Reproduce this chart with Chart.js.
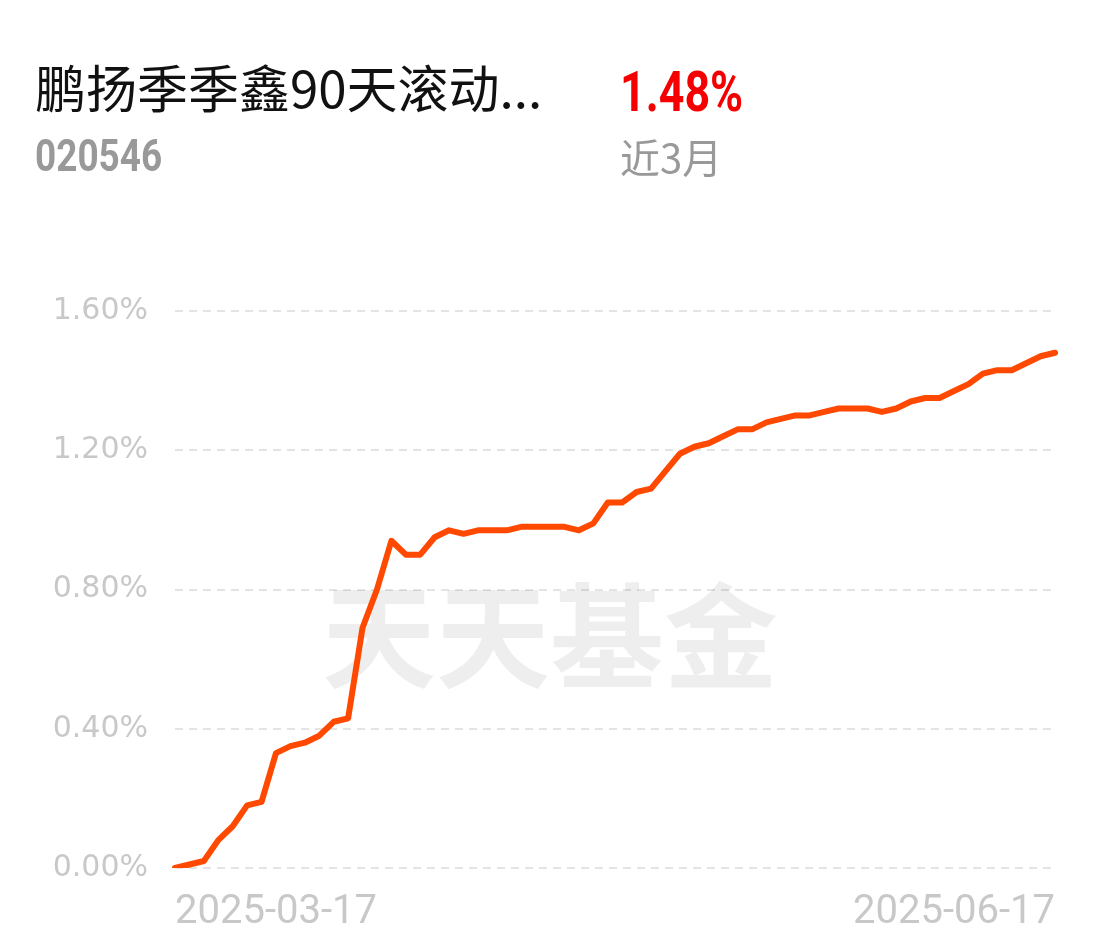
<!DOCTYPE html>
<html>
<head>
<meta charset="utf-8">
<script src="https://cdn.jsdelivr.net/npm/chart.js@4"></script>
<style>
  html, body { margin: 0; padding: 0; background: #fff; }
  #wrap { position: relative; width: 1102px; height: 951px; overflow: hidden; }
  #myChart { position: absolute; left: 0; top: 0; }
  .txt { position: absolute; white-space: nowrap; line-height: 1; }
  #title { left: 35px; top: 49px; font: 51px "Noto Sans CJK SC", sans-serif; color: #111; }
  #code { left: 35px; top: 130px; font: bold 44px Roboto, sans-serif; color: #999; transform: scaleX(0.84); transform-origin: left top; }
  #ret { left: 620px; top: 59px; font: bold 56px Roboto, sans-serif; color: #f50000; transform: scaleX(0.8); transform-origin: left top; }
  #period { left: 620px; top: 127px; font: 40px "Noto Sans CJK SC", sans-serif; color: #999; }
</style>
</head>
<body>
<div id="wrap">
  <canvas id="myChart" width="1102" height="951"></canvas>
  <div class="txt" id="title">鹏扬季季鑫90天滚动...</div>
  <div class="txt" id="code">020546</div>
  <div class="txt" id="ret">1.48%</div>
  <div class="txt" id="period">近3月</div>
</div>
<script>
// trading days, 2025-03-17 .. 2025-06-17
const dates = [
  '2025-03-17', '2025-03-18', '2025-03-19', '2025-03-20', '2025-03-21', '2025-03-24', '2025-03-25',
  '2025-03-26', '2025-03-27', '2025-03-28', '2025-03-31',
  '2025-04-01', '2025-04-02', '2025-04-03', '2025-04-07', '2025-04-08', '2025-04-09', '2025-04-10',
  '2025-04-11', '2025-04-14', '2025-04-15', '2025-04-16', '2025-04-17', '2025-04-18', '2025-04-21',
  '2025-04-22', '2025-04-23', '2025-04-24', '2025-04-25', '2025-04-28', '2025-04-29', '2025-04-30',
  '2025-05-06', '2025-05-07', '2025-05-08', '2025-05-09', '2025-05-12', '2025-05-13', '2025-05-14',
  '2025-05-15', '2025-05-16', '2025-05-19', '2025-05-20', '2025-05-21', '2025-05-22', '2025-05-23',
  '2025-05-26', '2025-05-27', '2025-05-28', '2025-05-29', '2025-05-30',
  '2025-06-03', '2025-06-04', '2025-06-05', '2025-06-06', '2025-06-09', '2025-06-10', '2025-06-11',
  '2025-06-12', '2025-06-13', '2025-06-16', '2025-06-17'
];

// cumulative return, %
const returns = [
  0.00, 0.01, 0.02, 0.08, 0.12, 0.18, 0.19, 0.33, 0.35, 0.36, 0.38,
  0.42, 0.43, 0.69, 0.80, 0.94, 0.90, 0.90, 0.95, 0.97, 0.96, 0.97,
  0.97, 0.97, 0.98, 0.98, 0.98, 0.98, 0.97, 0.99, 1.05, 1.05,
  1.08, 1.09, 1.14, 1.19, 1.21, 1.22, 1.24, 1.26, 1.26, 1.28, 1.29,
  1.30, 1.30, 1.31, 1.32, 1.32, 1.32, 1.31, 1.32,
  1.34, 1.35, 1.35, 1.37, 1.39, 1.42, 1.43, 1.43, 1.45, 1.47, 1.48
];

const yTicks = [0, 0.4, 0.8, 1.2, 1.6];

const watermark = {
  id: 'watermark',
  beforeDatasetsDraw(chart) {
    const { ctx } = chart;
    ctx.save();
    ctx.font = 'bold 114px "Noto Sans CJK SC", sans-serif';
    ctx.fillStyle = 'rgba(0,0,0,0.065)';
    ctx.textAlign = 'center';
    ctx.textBaseline = 'middle';
    ctx.fillText('天天基金', 550, 636);
    ctx.restore();
  }
};

const ctx = document.getElementById('myChart').getContext('2d');
const myChart = new Chart(ctx, {
  type: 'line',
  data: {
    labels: dates,
    datasets: [{
      data: returns,
      borderColor: '#ff4800',
      borderWidth: 6,
      borderJoinStyle: 'round',
      borderCapStyle: 'round',
      pointRadius: 0,
      tension: 0,
      fill: false
    }]
  },
  options: {
    responsive: false,
    animation: false,
    devicePixelRatio: 1,
    layout: { padding: { left: 0, top: 311, right: 47, bottom: 0 } },
    plugins: {
      legend: { display: false },
      tooltip: { enabled: false }
    },
    scales: {
      x: {
        grid: { display: false },
        border: { display: false },
        afterFit: (scale) => { scale.height = 83; },
        ticks: {
          autoSkip: false,
          maxRotation: 0,
          align: 'inner',
          padding: 13,
          color: '#c8c8c8',
          font: { family: 'Roboto', size: 40 },
          callback: (val, i) => (i === 0 || i === dates.length - 1) ? dates[i] : ''
        }
      },
      y: {
        min: 0,
        max: 1.6,
        afterFit: (scale) => { scale.width = 175; },
        afterBuildTicks: (scale) => { scale.ticks = yTicks.map(v => ({ value: v })); },
        grid: { color: '#e4e4e4', lineWidth: 2, drawTicks: false },
        border: { display: false, dash: [8, 6] },
        ticks: {
          padding: 27,
          color: '#c8c8c8',
          font: { family: 'DejaVu Sans', size: 30 },
          callback: (v) => v.toFixed(2) + '%'
        }
      }
    }
  },
  plugins: [watermark]
});
</script>
</body>
</html>
